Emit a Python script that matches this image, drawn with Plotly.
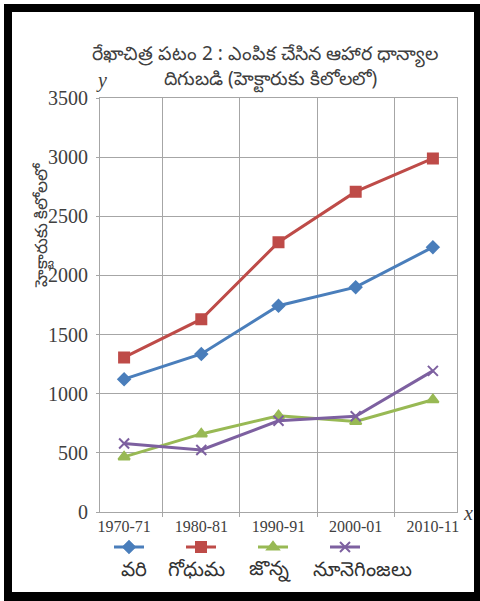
import plotly.graph_objects as go

W, H = 480, 601
ML, MR, MT, MB = 100, 23, 98, 89

years = ["1970-71", "1980-81", "1990-91", "2000-01", "2010-11"]
rice = [1123, 1336, 1744, 1901, 2239]
wheat = [1307, 1630, 2281, 2708, 2989]
jowar = [466, 660, 814, 765, 949]
oilseeds = [579, 524, 771, 810, 1193]

series_names = ["వరి", "గోధుమ", "జొన్న", "నూనెగింజలు"]
series_vals = [rice, wheat, jowar, oilseeds]
colors = ["#4A7EBB", "#BE4B48", "#98B954", "#7D60A0"]
symbols = ["diamond", "square", "triangle-up", "x-thin"]
msizes = [9, 10, 10, 10]

pw = W - ML - MR
ph = H - MT - MB


def px(x):
    return (x - ML) / pw


def py(y):
    return (H - MB - y) / ph


fig = go.Figure()
for name, vals, c, s, ms in zip(series_names, series_vals, colors, symbols, msizes):
    fig.add_trace(go.Scatter(
        x=years, y=vals, name="  ", mode="lines+markers",
        line=dict(color=c, width=3),
        marker=dict(symbol=s, size=ms, color=c, line=dict(color=c, width=2)),
    ))

serif = "Liberation Serif, Times New Roman, serif"
sans = "Noto Sans, DejaVu Sans, sans-serif"
gray = "#404040"
grid = "#A6A6A6"

fig.update_layout(
    width=W, height=H,
    margin=dict(l=ML, r=MR, t=MT, b=MB, autoexpand=False),
    paper_bgcolor="white", plot_bgcolor="white",
    showlegend=True,
    legend=dict(orientation="h", x=px(109), y=py(547), xanchor="left", yanchor="middle",
                entrywidth=27, entrywidthmode="pixels", itemwidth=30,
                font=dict(size=10), bgcolor="rgba(0,0,0,0)"),
    xaxis=dict(
        type="category", tickson="boundaries", showgrid=True, gridcolor=grid, gridwidth=1,
        showline=True, linecolor=grid, linewidth=1,
        ticks="outside", ticklen=4, tickcolor=grid,
        tickfont=dict(family=serif, size=16, color=gray),
        mirror=True, automargin=False,
    ),
    yaxis=dict(
        range=[0, 3500], dtick=500, showgrid=True, gridcolor=grid, gridwidth=1,
        showline=True, linecolor=grid, linewidth=1, mirror=True,
        ticks="outside", ticklen=3, tickcolor=grid, ticklabelstandoff=4,
        tickfont=dict(family=serif, size=20, color=gray),
        zeroline=False, automargin=False,
    ),
)

title_font = dict(family=sans, size=19, color=gray)
annots = [
    dict(text="రేఖాచిత్ర పటం 2 : ఎంపిక చేసిన ఆహార ధాన్యాల", x=px(265), y=py(54), font=title_font),
    dict(text="దిగుబడి (హెక్టారుకు కిలోలలో)", x=px(270), y=py(79), font=title_font),
    dict(text="<i>y</i>", x=px(101), y=py(80), font=dict(family=serif, size=20, color=gray)),
    dict(text="<i>x</i>", x=px(468), y=py(513), font=dict(family=serif, size=20, color=gray)),
    dict(text="హెక్టారుకు కిలోలలో", x=px(41), y=py(225), textangle=-90,
         font=dict(family=sans, size=17, color=gray)),
]
label_x = [134, 196, 270, 362]
for name, lx in zip(series_names, label_x):
    annots.append(dict(text=name, x=px(lx), y=py(568),
                       font=dict(family=sans, size=20, color="#333333")))
for a in annots:
    a.update(xref="paper", yref="paper", showarrow=False, xanchor="center", yanchor="middle")
fig.update_layout(annotations=annots)

# black frame around the figure
frame = [(4, 4, 480, 12), (4, 4, 12, 601), (474, 4, 480, 601), (4, 592, 480, 601)]
shapes = []
for x0, y0, x1, y1 in frame:
    shapes.append(dict(type="rect", xref="paper", yref="paper",
                       x0=px(x0), x1=px(x1), y0=py(y1), y1=py(y0),
                       fillcolor="black", line=dict(width=0), layer="above"))
fig.update_layout(shapes=shapes)

fig.write_html("out.html", config={"displayModeBar": False},
               post_script="document.body.style.margin='0';document.body.style.overflow='hidden';")
